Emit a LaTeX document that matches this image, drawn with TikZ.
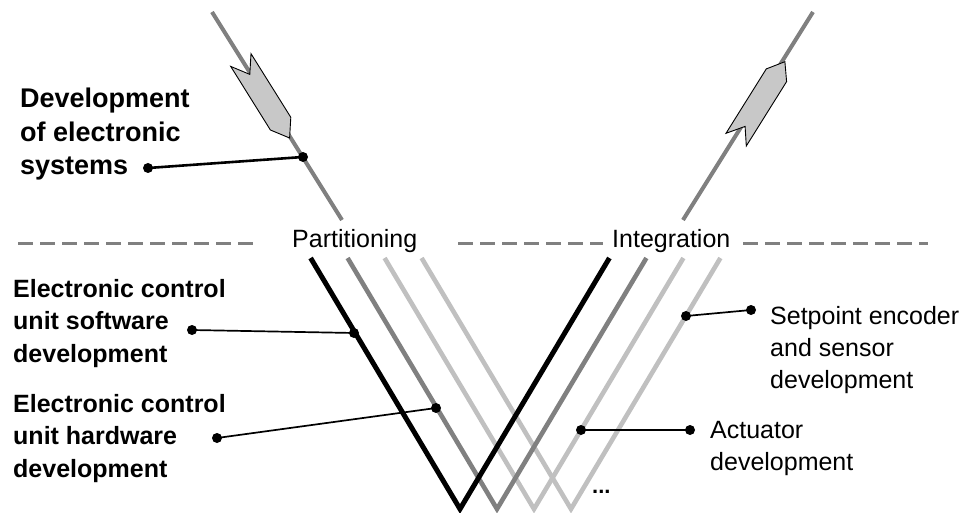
\documentclass[tikz,border=0pt]{standalone}
\usepackage{fontspec}
\setmainfont{Liberation Sans}
\definecolor{vmid}{HTML}{808080}
\definecolor{vlight}{HTML}{C0C0C0}
\definecolor{arrowfill}{HTML}{C8C8C8}
\begin{document}
\begin{tikzpicture}[x=1pt,y=-1pt,
  toparm/.style={draw=vmid,line width=4pt},
  varm/.style={line width=4.6pt,line join=miter},
  dashline/.style={draw=vmid,line width=3pt,dash pattern=on 15pt off 7pt},
  flowarrow/.style={fill=arrowfill,draw=black,line width=0.9pt,line join=miter},
  dot/.style={circle,fill=black,inner sep=0pt,minimum size=10pt},
  lead/.style={draw=black,line width=1.7pt},
  boldlab/.style={inner sep=0pt,anchor=base west,align=left,
    font=\fontsize{25}{32.5}\selectfont\bfseries},
  biglab/.style={inner sep=0pt,anchor=base west,align=left,
    font=\fontsize{27}{33.5}\selectfont\bfseries},
  plainlab/.style={inner sep=0pt,anchor=base west,align=left,
    font=\fontsize{25}{32}\selectfont},
]
\fill[white] (0,0) rectangle (967,513);
\useasboundingbox (0,0) rectangle (967,513);

% upper system-level arms
\coordinate (ltop) at (212,12);
\coordinate (lend) at (342,220);
\coordinate (rtop) at (813,12);
\coordinate (rend) at (683,220);
\draw[toparm] (ltop) -- (lend);
\draw[toparm] (rtop) -- (rend);

% block arrows on the arms
\draw[flowarrow] (230.7,66.4) -- (249.8,74.4) -- (251.0,53.7) -- (290.8,117.3)
  -- (289.6,138.0) -- (270.4,130.0) -- cycle;
\draw[flowarrow] (784.9,61.7) -- (786.6,81.6) -- (746.3,146.0) -- (745.1,126.4)
  -- (726.0,133.3) -- (766.3,68.9) -- cycle;

% component-level V's
\foreach \vx/\col/\lw [count=\i] in {571/vlight/4.6pt,534/vlight/4.6pt,497/vmid/4.6pt,460/black/5pt}{
  \coordinate (vl\i) at (\vx-149.4,258);
  \coordinate (vb\i) at (\vx,509);
  \coordinate (vr\i) at (\vx+149.4,258);
  \draw[varm,draw=\col,line width=\lw] (vl\i) -- (vb\i) -- (vr\i);
}

% phase separator
\node[plainlab] (part) at (292,248) {Partitioning};
\node[plainlab] (integ) at (612,248) {Integration};
\coordinate (d0) at (18,244);
\coordinate (d1) at (255,244);
\coordinate (d2) at (458,244);
\coordinate (d3) at (603,244);
\coordinate (d4) at (743,244);
\coordinate (d5) at (928,244);
\draw[dashline] (d0) -- (d1);
\draw[dashline] (d2) -- (d3);
\draw[dashline] (d4) -- (d5);

% labels (multi-line nodes sit on the baseline of their last line)
\node[biglab] (sys) at (20,175) {Development\\of electronic\\systems};
\node[boldlab] (sw) at (13,362) {Electronic control\\unit software\\development};
\node[boldlab] (hw) at (13,477) {Electronic control\\unit hardware\\development};
\node[plainlab] (sens) at (770,388) {Setpoint encoder\\and sensor\\development};
\node[plainlab] (act) at (710,470) {Actuator\\development};
\node[inner sep=0pt,anchor=base west,font=\fontsize{22}{26}\selectfont\bfseries] (more) at (592,493) {...};

% leader dots and lines
\node[dot] (sysA) at (148,168) {};
\node[dot] (sysB) at (303,157) {};
\node[dot] (swA) at (192,330) {};
\node[dot] (swB) at (354,333) {};
\node[dot] (hwA) at (217,438) {};
\node[dot] (hwB) at (436,408) {};
\node[dot] (sensA) at (751,310) {};
\node[dot] (sensB) at (686,316) {};
\node[dot] (actA) at (690,430) {};
\node[dot] (actB) at (581,430) {};
\draw[lead,line width=2.6pt] (sysA.center) -- (sysB.center);
\draw[lead] (swA.center) -- (swB.center);
\draw[lead] (hwA.center) -- (hwB.center);
\draw[lead] (sensA.center) -- (sensB.center);
\draw[lead] (actA.center) -- (actB.center);
\end{tikzpicture}
\end{document}
